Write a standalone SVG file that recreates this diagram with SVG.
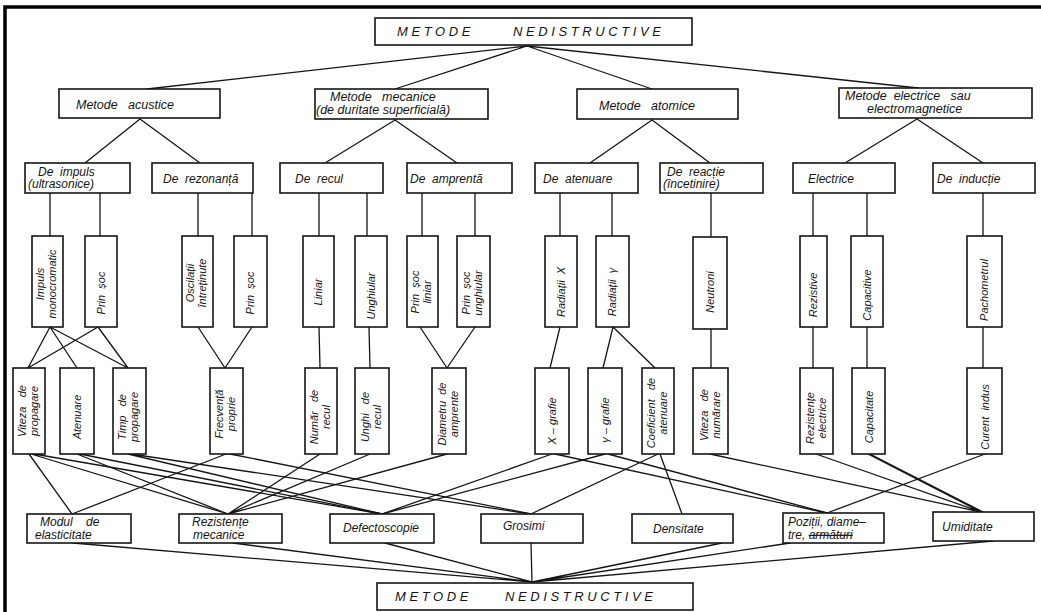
<svg xmlns="http://www.w3.org/2000/svg" width="1041" height="612" viewBox="0 0 1041 612">
<style>
  .box { fill: #fff; stroke: #151515; stroke-width: 1.6; }
  .ln { stroke: #151515; stroke-width: 1.3; fill: none; stroke-linecap: round; }
  text { font-family: "Liberation Sans", "DejaVu Sans", sans-serif; font-style: italic; fill: #151515; }
  .t1 { font-size: 12.5px; }
  .t2 { font-size: 12px; }
  .tv { font-size: 11px; text-anchor: middle; }
  .title { font-size: 13px; letter-spacing: 3.6px; }
</style>
<rect width="1041" height="612" fill="#fff"/>
<!-- outer frame: left and top rules -->
<path d="M5,612 V7 H1041" stroke="#000" stroke-width="3.5" fill="none"/>

<!-- connectors -->
<g id="connectors" class="ln">
  <!-- root to method families -->
  <path d="M527,46 L147,89 M527,46 L395,89 M527,46 L652,89 M527,46 L918,88"/>
  <!-- families to sub-methods -->
  <path d="M140,119 L85,163 M140,119 L200,163"/>
  <path d="M395,120 L325,163 M395,120 L457,163"/>
  <path d="M652,120 L590,163 M652,120 L710,163"/>
  <path d="M917,119 L845,163 M917,119 L983,163"/>
  <!-- sub-methods to techniques -->
  <path d="M50,193 V236 M100,193 V236 M198,193 V236 M252,193 V236 M319,193 V236 M367,193 V236 M422,193 V236 M475,193 V236 M560,193 V236 M612,193 V236 M711,193 V237 M813,193 V236 M867,193 V236 M983,193 V236"/>
  <!-- techniques to measured quantities -->
  <path d="M50,327 L28,368 M50,327 L77,368 M50,327 L128,368 M98,327 L28,368 M98,327 L128,368"/>
  <path d="M198,327 L225,368 M252,327 L225,368"/>
  <path d="M319,327 L320,368 M369,327 L370,368"/>
  <path d="M420,327 L447,368 M475,327 L447,368"/>
  <path d="M560,327 L550,368 M613,327 L603,368 M613,327 L655,368"/>
  <path d="M711,329 L711,368 M813,327 L813,368 M867,327 L867,368 M983,327 L983,368"/>
  <!-- measured quantities to determined properties -->
  <path d="M29,454 L72,514 M31,454 L228,514 M34,454 L382,514"/>
  <path d="M77,454 L228,514 M80,454 L382,514"/>
  <path d="M128,454 L382,514 M131,454 L531,514"/>
  <path d="M226,454 L72,514 M230,454 L531,514"/>
  <path d="M320,454 L228,514 M370,454 L228,514 M447,454 L228,514"/>
  <path d="M552,454 L382,514 M555,454 L827,513"/>
  <path d="M605,454 L382,514 M608,454 L827,513"/>
  <path d="M658,454 L531,514 M660,454 L682,514"/>
  <path d="M710,454 L981,512 M816,454 L981,512 M868,454 L981,512 M870,454 L983,512 M985,454 L827,513"/>
  <!-- determined properties to bottom root -->
  <path d="M73,543 L532,582 M233,543 L532,582 M385,543 L532,582 M531,543 L532,582 M722,543 L532,582 M790,543 L532,582 M993,541 L532,582"/>
</g>

<!-- root -->
<g id="root-top">
  <rect class="box" x="375" y="18" width="317" height="27"/>
  <text class="title" x="397" y="36">METODE</text>
  <text class="title" x="513" y="36">NEDISTRUCTIVE</text>
</g>

<!-- method families -->
<g id="acustice">
  <rect class="box" x="59" y="89" width="161" height="29"/>
  <text class="t1" x="76" y="109" xml:space="preserve">Metode   acustice</text>
</g>
<g id="mecanice">
  <rect class="box" x="315" y="89" width="173" height="30"/>
  <text class="t1" x="330" y="101" xml:space="preserve">Metode   mecanice</text>
  <text class="t1" x="316" y="114">(de duritate superficială)</text>
</g>
<g id="atomice">
  <rect class="box" x="577" y="89" width="161" height="30"/>
  <text class="t1" x="599" y="110" xml:space="preserve">Metode   atomice</text>
</g>
<g id="electrice">
  <rect class="box" x="839" y="88" width="193" height="30"/>
  <text class="t1" x="845" y="100" xml:space="preserve">Metode  electrice   sau</text>
  <text class="t1" x="867" y="113">electromagnetice</text>
</g>

<!-- sub-methods -->
<g id="impuls">
  <rect class="box" x="25" y="163" width="105" height="30"/>
  <text class="t2" x="38" y="176" xml:space="preserve">De  impuls</text>
  <text class="t2" x="28" y="188">(ultrasonice)</text>
</g>
<g id="rezonanta">
  <rect class="box" x="152" y="163" width="101" height="30"/>
  <text class="t2" x="163" y="183" xml:space="preserve">De  rezonanță</text>
</g>
<g id="recul">
  <rect class="box" x="280" y="163" width="103" height="30"/>
  <text class="t2" x="295" y="183" xml:space="preserve">De  recul</text>
</g>
<g id="amprenta">
  <rect class="box" x="407" y="163" width="105" height="30"/>
  <text class="t2" x="410" y="183" xml:space="preserve">De  amprentă</text>
</g>
<g id="atenuare">
  <rect class="box" x="535" y="163" width="103" height="30"/>
  <text class="t2" x="543" y="183" xml:space="preserve">De  atenuare</text>
</g>
<g id="reactie">
  <rect class="box" x="660" y="163" width="103" height="30"/>
  <text class="t2" x="667" y="176" xml:space="preserve">De  reacție</text>
  <text class="t2" x="663" y="188">(încetinire)</text>
</g>
<g id="electrice-sub">
  <rect class="box" x="793" y="163" width="102" height="30"/>
  <text class="t2" x="808" y="183">Electrice</text>
</g>
<g id="inductie">
  <rect class="box" x="933" y="163" width="102" height="30"/>
  <text class="t2" x="937" y="183" xml:space="preserve">De  inducție</text>
</g>

<!-- techniques (vertical labels) -->
<g id="impuls-mono">
  <rect class="box" x="32" y="236" width="31" height="91"/>
  <text class="tv" transform="translate(47,284) rotate(-90)"><tspan x="0" y="-3">Impuls</tspan><tspan x="0" y="9">monocromatic</tspan></text>
</g>
<g id="prin-soc-1">
  <rect class="box" x="85" y="236" width="32" height="91"/>
  <text class="tv" transform="translate(101,293) rotate(-90)" y="4" xml:space="preserve">Prin  șoc</text>
</g>
<g id="oscilatii">
  <rect class="box" x="182" y="236" width="31" height="91"/>
  <text class="tv" transform="translate(197,283) rotate(-90)"><tspan x="0" y="-3">Oscilații</tspan><tspan x="0" y="9">întreținute</tspan></text>
</g>
<g id="prin-soc-2">
  <rect class="box" x="234" y="236" width="33" height="91"/>
  <text class="tv" transform="translate(250,293) rotate(-90)" y="4" xml:space="preserve">Prin  șoc</text>
</g>
<g id="liniar">
  <rect class="box" x="303" y="236" width="31" height="91"/>
  <text class="tv" transform="translate(318,292) rotate(-90)" y="4">Liniar</text>
</g>
<g id="unghiular">
  <rect class="box" x="355" y="236" width="32" height="91"/>
  <text class="tv" transform="translate(371,296) rotate(-90)" y="4">Unghiular</text>
</g>
<g id="soc-liniar">
  <rect class="box" x="407" y="236" width="31" height="91"/>
  <text class="tv" transform="translate(422,292) rotate(-90)"><tspan x="0" y="-3" xml:space="preserve">Prin  șoc</tspan><tspan x="0" y="9">liniar</tspan></text>
</g>
<g id="soc-unghiular">
  <rect class="box" x="457" y="236" width="33" height="91"/>
  <text class="tv" transform="translate(473,293) rotate(-90)"><tspan x="0" y="-3" xml:space="preserve">Prin  șoc</tspan><tspan x="0" y="9">unghiular</tspan></text>
</g>
<g id="radiatii-x">
  <rect class="box" x="545" y="236" width="32" height="91"/>
  <text class="tv" transform="translate(561,292) rotate(-90)" y="4" xml:space="preserve">Radiații  X</text>
</g>
<g id="radiatii-g">
  <rect class="box" x="596" y="236" width="33" height="91"/>
  <text class="tv" transform="translate(612,292) rotate(-90)" y="4" xml:space="preserve">Radiații  γ</text>
</g>
<g id="neutroni">
  <rect class="box" x="693" y="237" width="34" height="92"/>
  <text class="tv" transform="translate(710,292) rotate(-90)" y="4">Neutroni</text>
</g>
<g id="rezistive">
  <rect class="box" x="800" y="236" width="27" height="91"/>
  <text class="tv" transform="translate(813,295) rotate(-90)" y="4">Rezistive</text>
</g>
<g id="capacitive">
  <rect class="box" x="851" y="236" width="32" height="91"/>
  <text class="tv" transform="translate(867,295) rotate(-90)" y="4">Capacitive</text>
</g>
<g id="pachometrul">
  <rect class="box" x="967" y="236" width="35" height="91"/>
  <text class="tv" transform="translate(984,290) rotate(-90)" y="4">Pachometrul</text>
</g>

<!-- measured quantities (vertical labels) -->
<g id="viteza-prop">
  <rect class="box" x="13" y="368" width="32" height="86"/>
  <text class="tv" transform="translate(29,411) rotate(-90)"><tspan x="0" y="-3" xml:space="preserve">Viteza   de</tspan><tspan x="0" y="9">propagare</tspan></text>
</g>
<g id="atenuare-m">
  <rect class="box" x="60" y="368" width="34" height="86"/>
  <text class="tv" transform="translate(77,417) rotate(-90)" y="4">Atenuare</text>
</g>
<g id="timp-prop">
  <rect class="box" x="113" y="368" width="33" height="86"/>
  <text class="tv" transform="translate(129,417) rotate(-90)"><tspan x="0" y="-3" xml:space="preserve">Timp   de</tspan><tspan x="0" y="9">propagare</tspan></text>
</g>
<g id="frecventa">
  <rect class="box" x="210" y="368" width="33" height="86"/>
  <text class="tv" transform="translate(226,414) rotate(-90)"><tspan x="0" y="-3">Frecvență</tspan><tspan x="0" y="9">proprie</tspan></text>
</g>
<g id="numar-recul">
  <rect class="box" x="305" y="368" width="32" height="86"/>
  <text class="tv" transform="translate(321,417) rotate(-90)"><tspan x="0" y="-3" xml:space="preserve">Număr   de</tspan><tspan x="0" y="9">recul</tspan></text>
</g>
<g id="unghi-recul">
  <rect class="box" x="355" y="368" width="34" height="86"/>
  <text class="tv" transform="translate(372,417) rotate(-90)"><tspan x="0" y="-3" xml:space="preserve">Unghi   de</tspan><tspan x="0" y="9">recul</tspan></text>
</g>
<g id="diametru">
  <rect class="box" x="432" y="368" width="34" height="86"/>
  <text class="tv" transform="translate(449,414) rotate(-90)"><tspan x="0" y="-3" xml:space="preserve">Diametru  de</tspan><tspan x="0" y="9">amprente</tspan></text>
</g>
<g id="x-grafie">
  <rect class="box" x="535" y="368" width="34" height="86"/>
  <text class="tv" transform="translate(552,421) rotate(-90)" y="4">X – grafie</text>
</g>
<g id="g-grafie">
  <rect class="box" x="588" y="368" width="34" height="86"/>
  <text class="tv" transform="translate(605,420) rotate(-90)" y="4">γ – grafie</text>
</g>
<g id="coeficient">
  <rect class="box" x="642" y="368" width="32" height="86"/>
  <text class="tv" transform="translate(658,413) rotate(-90)"><tspan x="0" y="-3" xml:space="preserve">Coeficient   de</tspan><tspan x="0" y="9">atenuare</tspan></text>
</g>
<g id="viteza-num">
  <rect class="box" x="693" y="368" width="35" height="86"/>
  <text class="tv" transform="translate(711,415) rotate(-90)"><tspan x="0" y="-3" xml:space="preserve">Viteza   de</tspan><tspan x="0" y="9">numărare</tspan></text>
</g>
<g id="rezistente-el">
  <rect class="box" x="800" y="368" width="33" height="86"/>
  <text class="tv" transform="translate(817,418) rotate(-90)"><tspan x="0" y="-3">Rezistențe</tspan><tspan x="0" y="9">electrice</tspan></text>
</g>
<g id="capacitate">
  <rect class="box" x="852" y="368" width="33" height="86"/>
  <text class="tv" transform="translate(869,417) rotate(-90)" y="4">Capacitate</text>
</g>
<g id="curent">
  <rect class="box" x="967" y="368" width="35" height="86"/>
  <text class="tv" transform="translate(985,417) rotate(-90)" y="4" xml:space="preserve">Curent  indus</text>
</g>

<!-- determined properties -->
<g id="modul">
  <rect class="box" x="27" y="514" width="104" height="29"/>
  <text class="t2" x="40" y="526" xml:space="preserve">Modul    de</text>
  <text class="t2" x="35" y="539">elasticitate</text>
</g>
<g id="rezistente-mec">
  <rect class="box" x="179" y="514" width="103" height="29"/>
  <text class="t2" x="192" y="526">Rezistențe</text>
  <text class="t2" x="193" y="539">mecanice</text>
</g>
<g id="defectoscopie">
  <rect class="box" x="330" y="514" width="104" height="29"/>
  <text class="t2" x="343" y="532">Defectoscopie</text>
</g>
<g id="grosimi">
  <rect class="box" x="481" y="514" width="102" height="29"/>
  <text class="t2" x="503" y="530">Grosimi</text>
</g>
<g id="densitate">
  <rect class="box" x="632" y="514" width="101" height="29"/>
  <text class="t2" x="653" y="533">Densitate</text>
</g>
<g id="pozitii">
  <rect class="box" x="783" y="513" width="101" height="30"/>
  <text class="t2" x="788" y="526">Poziții, diame–</text>
  <text class="t2" x="788" y="539">tre, <tspan text-decoration="line-through">armături</tspan></text>
</g>
<g id="umiditate">
  <rect class="box" x="933" y="512" width="101" height="29"/>
  <text class="t2" x="942" y="531">Umiditate</text>
</g>

<!-- root (bottom) -->
<g id="root-bottom">
  <rect class="box" x="377" y="583" width="316" height="27"/>
  <text class="title" x="395" y="601">METODE</text>
  <text class="title" x="505" y="601">NEDISTRUCTIVE</text>
</g>
</svg>
